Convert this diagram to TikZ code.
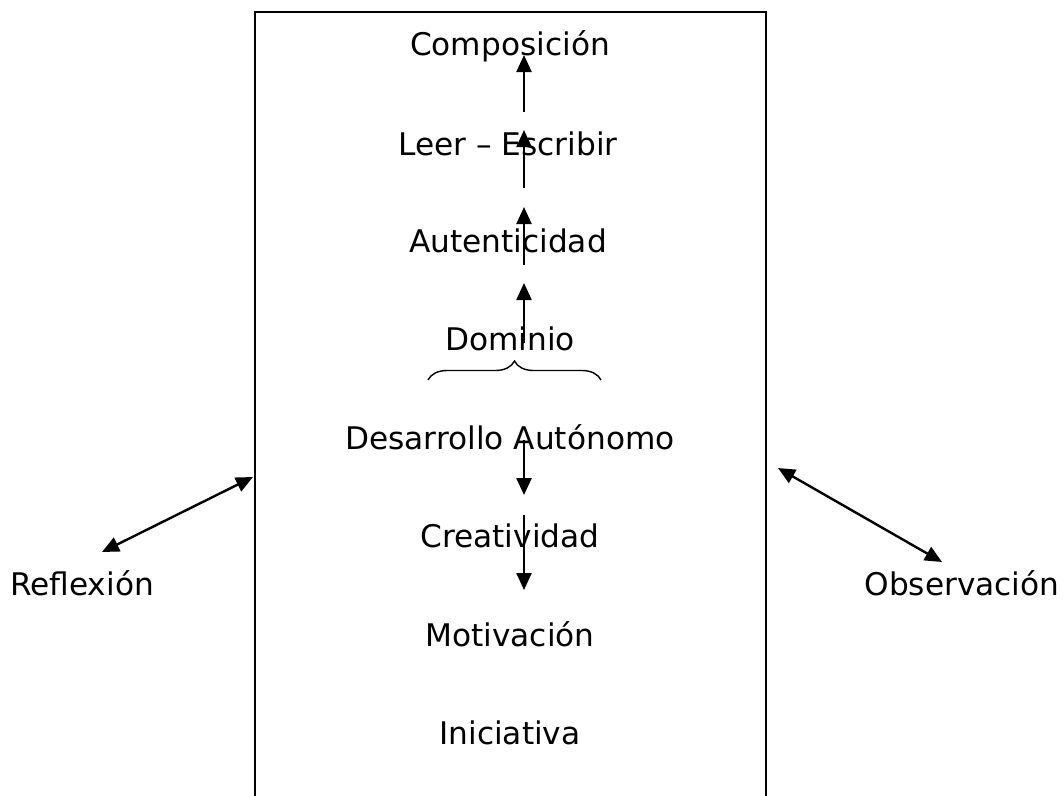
\documentclass[tikz,border=0pt]{standalone}
\usepackage{fontspec}
\setmainfont{DejaVu Sans}
\usetikzlibrary{arrows.meta,calc,decorations.pathreplacing}
\tikzset{
	texto/.style={font=\fontsize{31.2}{37}\selectfont, anchor=base, inner sep=0pt},
	flecha/.style={line width=2.4pt, -{Triangle[length=17pt,width=15pt]}},
	doble/.style={line width=2.4pt, {Triangle[length=17pt,width=15pt]}-{Triangle[length=17pt,width=15pt]}},
}
\begin{document}
\begin{tikzpicture}[x=1pt,y=-1pt]
		\useasboundingbox (0,0) rectangle (1064,795);
		\draw[line width=2.4pt] (255,800) |- (766,12) -- (766,800);
		\node[texto] (comp) at (510,55) {Composición};
		\node[texto] (leer) at (508,155) {Leer – Escribir};
		\node[texto] (aut) at (508,252) {Autenticidad};
		\node[texto] (dom) at (510,350) {Dominio};
		\node[texto] (des) at (510,449) {Desarrollo Autónomo};
		\node[texto] (cre) at (510,547) {Creatividad};
		\node[texto] (mot) at (510,646) {Motivación};
		\node[texto] (ini) at (510,744) {Iniciativa};
		\node[texto] (refl) at (82,595) {Reflexión};
		\node[texto] (obs) at (962,595) {Observación};
		\coordinate (izq) at (253,477);
		\coordinate (der) at (778,468);
		\draw[flecha] ($(leer.base)+(16,-43)$) -- ($(comp.base)+(14,0)$);
		\draw[flecha] ($(aut.base)+(16,-64)$) -- ($(leer.base)+(16,-25)$);
		\draw[flecha] ($(dom.base)+(14,-85)$) -- ($(aut.base)+(16,-45)$);
		\draw[flecha] ($(dom.base)+(14,-7)$) -- ($(aut.base)+(16,31)$);
		\draw[line width=1.4pt, decorate, decoration={brace, amplitude=19pt}]
		($(dom.base)+(-82,30)$) -- ($(dom.base)+(91,30)$);
		\draw[flecha] ($(des.base)+(14,-9)$) -- ($(cre.base)+(14,-52)$);
		\draw[flecha] ($(cre.base)+(14,-32)$) -- ($(mot.base)+(14,-56)$);
		\draw[doble] (izq) -- ($(refl.base)+(20,-43)$);
		\draw[doble] (der) -- ($(obs.base)+(-20,-33)$);
	\end{tikzpicture}
\end{document}
